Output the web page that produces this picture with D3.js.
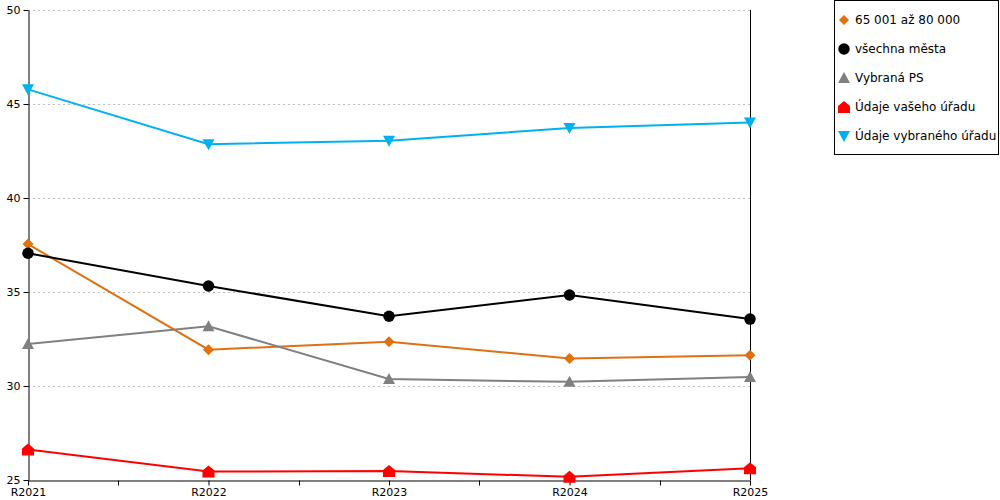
<!DOCTYPE html>
<html lang="cs">
<head>
<meta charset="UTF-8">
<title>Chart</title>
<script src="https://d3js.org/d3.v7.min.js"></script>
<style>
  body { margin: 0; background: #fff; }
  svg text { font-family: "DejaVu Sans", Verdana, sans-serif; fill: #000; }
</style>
</head>
<body>
<div id="chart"></div>
<script>
// data
const years = ["R2021", "R2022", "R2023", "R2024", "R2025"];
const yTicks = [25, 30, 35, 40, 45, 50];
const seriesNames = ["65 001 až 80 000", "všechna města", "Vybraná PS", "Údaje vašeho úřadu", "Údaje vybraného úřadu"];
const seriesColors = ["#e07010", "#000000", "#808080", "#ff0000", "#00b0f0"];
const seriesSymbols = ["diamond", "circle", "triangle", "house", "triangleDown"];
const valsPop = [37.55, 31.93, 32.36, 31.46, 31.63];
const valsAll = [37.06, 35.32, 33.71, 34.84, 33.56];
const valsPS = [32.23, 33.18, 30.37, 30.22, 30.48];
const valsMine = [26.62, 25.45, 25.48, 25.17, 25.63];
const valsSelected = [45.78, 42.86, 43.05, 43.72, 44.02];
const seriesValues = [valsPop, valsAll, valsPS, valsMine, valsSelected];

const W = 1000, H = 500;
const margin = { left: 28, top: 10, right: 250, bottom: 20 };

const svg = d3.select("#chart").append("svg")
    .attr("width", W).attr("height", H);

const x = d3.scalePoint().domain(years).range([margin.left, W - margin.right]);
const y = d3.scaleLinear().domain([25, 50]).range([H - margin.bottom, margin.top]);

// dotted gridlines
svg.append("g").selectAll("line")
    .data(yTicks.slice(1))
    .enter().append("line")
    .attr("x1", margin.left).attr("x2", x("R2025"))
    .attr("y1", d => y(d) + 0.5).attr("y2", d => y(d) + 0.5)
    .attr("stroke", "#bdbdbd").attr("stroke-dasharray", "2,3");

// y axis
const yAxis = svg.append("g")
    .attr("transform", `translate(${margin.left + 0.5},0)`)
    .call(d3.axisLeft(y).tickValues(yTicks).tickSize(5).tickSizeOuter(0).tickPadding(3));
yAxis.select(".domain").attr("stroke", "#000");
yAxis.selectAll("text").attr("font-size", 11).attr("font-family", "DejaVu Sans, Verdana, sans-serif");

// x axis with minor ticks between categories
const step = x.step();
const xAxis = svg.append("g")
    .attr("transform", `translate(0,${y(25) + 0.5})`)
    .call(d3.axisBottom(x).tickSize(5).tickSizeOuter(0).tickPadding(3));
xAxis.select(".domain").attr("stroke", "#000");
xAxis.selectAll("text").attr("font-size", 11).attr("font-family", "DejaVu Sans, Verdana, sans-serif");
xAxis.selectAll(".tick line").attr("y2", 5);
xAxis.append("g").selectAll("line")
    .data(years.slice(0, -1))
    .enter().append("line")
    .attr("x1", d => Math.round(x(d) + step / 2) + 0.5)
    .attr("x2", d => Math.round(x(d) + step / 2) + 0.5)
    .attr("y1", 0).attr("y2", 5)
    .attr("stroke", "#000");

// right vertical line at the last category
svg.append("line")
    .attr("x1", x("R2025") + 0.5).attr("x2", x("R2025") + 0.5)
    .attr("y1", y(50)).attr("y2", y(25))
    .attr("stroke", "#000");

// marker shapes
function markerPath(kind, s) {
    const h = s / 2;
    if (kind === "diamond") return `M0,${-h}L${h},0L0,${h}L${-h},0Z`;
    if (kind === "triangle") return `M0,${-h}L${h},${h - 1}L${-h},${h - 1}Z`;
    if (kind === "triangleDown") return `M${-h},${-h + 1}L${h},${-h + 1}L0,${h}Z`;
    if (kind === "house") return `M0,${-h}L${h},${-1}L${h},${h}L${-h},${h}L${-h},${-1}Z`;
    return d3.symbol(d3.symbolCircle, s * s * 0.72)();
}

const line = d3.line().x((d, i) => x(years[i])).y(d => y(d));

seriesValues.forEach((vals, k) => {
    const g = svg.append("g");
    g.append("path")
        .datum(vals)
        .attr("d", line)
        .attr("fill", "none")
        .attr("stroke", seriesColors[k])
        .attr("stroke-width", 2);
    g.selectAll("path.mk")
        .data(vals)
        .enter().append("path")
        .attr("class", "mk")
        .attr("transform", (d, i) => `translate(${x(years[i])},${y(d)})`)
        .attr("d", markerPath(seriesSymbols[k], seriesSymbols[k] === "diamond" ? 11 : 12))
        .attr("fill", seriesColors[k]);
});

// legend
const legend = svg.append("g");
legend.append("rect")
    .attr("x", 834.5).attr("y", 0.5)
    .attr("width", 164).attr("height", 154)
    .attr("fill", "#fff").attr("stroke", "#000");

const items = legend.selectAll("g.item")
    .data(seriesNames)
    .enter().append("g")
    .attr("class", "item")
    .attr("transform", (d, i) => `translate(844,${20 + i * 29})`);
items.append("path")
    .attr("d", (d, i) => markerPath(seriesSymbols[i], seriesSymbols[i] === "diamond" ? 10 : 12))
    .attr("fill", (d, i) => seriesColors[i]);
items.append("text")
    .attr("x", 11).attr("dy", "0.35em")
    .attr("font-size", 12)
    .text(d => d);
</script>
</body>
</html>
